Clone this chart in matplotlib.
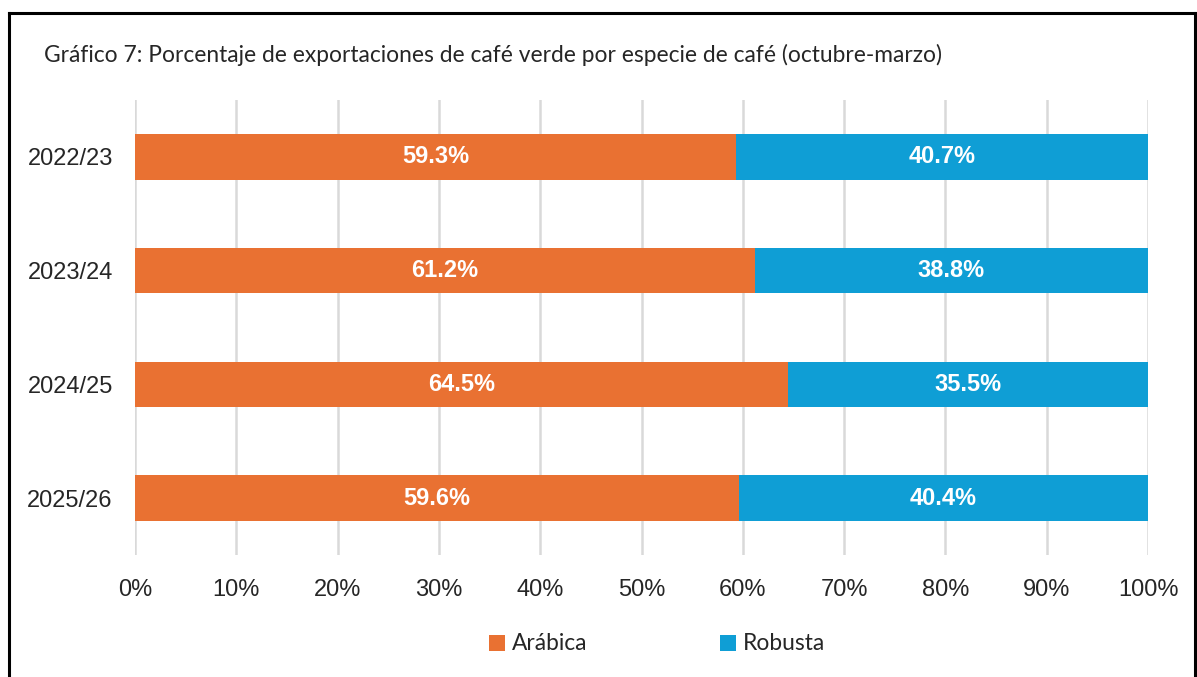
import matplotlib
matplotlib.use('Agg')
import matplotlib.pyplot as plt
from matplotlib.patches import Patch
from matplotlib.lines import Line2D

# data
seasons = ['2022/23', '2023/24', '2024/25', '2025/26']
arabica = [59.3, 61.2, 64.5, 59.6]
robusta = [40.7, 38.8, 35.5, 40.4]
xticks = [0, 10, 20, 30, 40, 50, 60, 70, 80, 90, 100]

ORANGE = '#E97132'
BLUE = '#0F9ED5'
TXT = '#262626'

fig = plt.figure(figsize=(11.97, 6.77), dpi=100)
ax = fig.add_axes([135 / 1197, 1 - 555 / 677, (1148 - 135) / 1197, (555 - 100) / 677])

ypos = list(range(len(seasons)))
b1 = ax.barh(ypos, arabica, height=0.4, color=ORANGE, zorder=3)
b2 = ax.barh(ypos, robusta, left=arabica, height=0.4, color=BLUE, zorder=3)
for bars, vals in [(b1, arabica), (b2, robusta)]:
    ax.bar_label(bars, labels=[f'{v:.1f}%' for v in vals], label_type='center',
                 color='white', fontweight='bold', fontsize=17, family='Liberation Sans')

ax.set_xlim(0, 100)
ax.set_ylim(len(seasons) - 0.5, -0.5)
ax.set_yticks(ypos)
ax.set_yticklabels(seasons, fontsize=17, family='Liberation Sans', color=TXT)
ax.set_xticks(xticks)
ax.set_xticklabels([f'{t}%' for t in xticks], fontsize=17, family='Liberation Sans', color=TXT)
ax.tick_params(length=0)
ax.tick_params(axis='x', pad=17)
ax.tick_params(axis='y', pad=16)
ax.grid(axis='x', color='#D9D9D9', linewidth=1.8, zorder=0)
for s in ax.spines.values():
    s.set_visible(False)

fig.text(44 / 1197, 1 - 55 / 677, 'Gráfico 7: Porcentaje de exportaciones de café verde por especie de café (octubre-marzo)',
         fontsize=16.4, family='Lato', color=TXT, va='center', ha='left')

handles = [Patch(facecolor=ORANGE), Patch(facecolor=BLUE)]
leg = fig.legend(handles, ['Arábica', 'Robusta'], loc='center', bbox_to_anchor=(0.549, 1 - 644 / 677),
                 ncol=2, frameon=False, prop={'family': 'Lato', 'size': 16.4},
                 handlelength=0.7, handleheight=0.7, handletextpad=0.3, columnspacing=5.8)
for t in leg.get_texts():
    t.set_color(TXT)

# outer frame
for xs, ys in [([9 / 1197, 9 / 1197], [0, 1 - 13 / 677]),
               ([9 / 1197, 1195 / 1197], [1 - 13 / 677, 1 - 13 / 677]),
               ([1195 / 1197, 1195 / 1197], [1 - 13 / 677, 0])]:
    fig.add_artist(Line2D(xs, ys, color='black', linewidth=2.2, transform=fig.transFigure))

fig.savefig('out.png', dpi=100, facecolor='white')
